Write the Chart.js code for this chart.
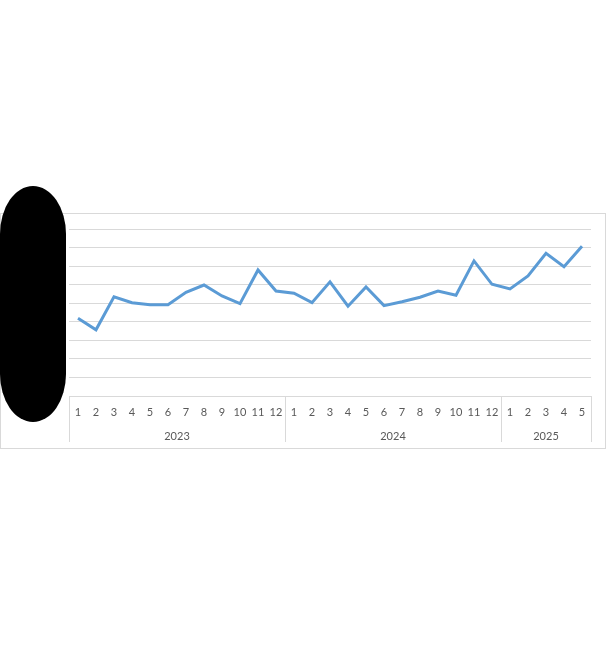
<!DOCTYPE html>
<html>
<head>
<meta charset="utf-8">
<script src="https://cdn.jsdelivr.net/npm/chart.js@4/dist/chart.umd.min.js"></script>
<style>
html,body{margin:0;padding:0;background:#fff;width:607px;height:662px;overflow:hidden;}
#wrap{position:relative;width:607px;height:662px;}
#blob{position:absolute;left:0;top:186px;width:66px;height:236px;background:#000;border-radius:33px / 48px;z-index:5;}
</style>
</head>
<body>
<div id="wrap">
<canvas id="c" width="607" height="662"></canvas>
<div id="blob"></div>
</div>
<script>
const years = ['2023', '2024', '2025'];
const monthsPerYear = [12, 12, 5];
const values = [4.19, 3.57, 5.35, 5.03, 4.92, 4.92, 5.59, 5.98, 5.39, 4.98, 6.79, 5.66,
                5.54, 5.03, 6.15, 4.84, 5.88, 4.87, 5.08, 5.32, 5.66, 5.43, 7.28, 6.02,
                5.77, 6.47, 7.69, 6.97, 8.07];
const yTicks = [0, 1, 2, 3, 4, 5, 6, 7, 8, 9];

const labels = [];
const monthLabels = [];
years.forEach((y, i) => {
  for (let m = 1; m <= monthsPerYear[i]; m++) { labels.push(y + '-' + m); monthLabels.push(String(m)); }
});

const gridColor = '#d9d9d9';
const textColor = '#595959';
const fontFamily = 'Lato, "Open Sans", sans-serif';

const decor = {
  id: 'decor',
  beforeDraw(chart) {
    const ctx = chart.ctx;
    ctx.save();
    ctx.fillStyle = '#fff';
    ctx.fillRect(0, 0, chart.width, chart.height);
    ctx.strokeStyle = gridColor;
    ctx.lineWidth = 1;
    ctx.strokeRect(0.5, 213.5, 605, 235);
    ctx.restore();
  },
  afterDraw(chart) {
    const ctx = chart.ctx;
    const xs = chart.scales.x;
    const area = chart.chartArea;
    const half = (xs.getPixelForValue(1) - xs.getPixelForValue(0)) / 2;
    ctx.save();
    ctx.strokeStyle = gridColor;
    ctx.lineWidth = 1;
    ctx.beginPath();
    ctx.moveTo(area.left, Math.round(area.bottom) + 0.5);
    ctx.lineTo(area.right, Math.round(area.bottom) + 0.5);
    ctx.stroke();
    let idx = 0;
    const bounds = [xs.getPixelForValue(0) - half];
    ctx.fillStyle = textColor;
    ctx.font = '11px ' + fontFamily;
    ctx.textAlign = 'center';
    ctx.textBaseline = 'middle';
    years.forEach((y, i) => {
      const start = xs.getPixelForValue(idx) - half;
      idx += monthsPerYear[i];
      const end = xs.getPixelForValue(idx - 1) + half;
      bounds.push(end);
      ctx.fillText(y, (start + end) / 2, area.bottom + 40);
    });
    bounds.forEach(b => {
      ctx.beginPath();
      ctx.moveTo(Math.round(b) + 0.5, area.bottom);
      ctx.lineTo(Math.round(b) + 0.5, area.bottom + 46);
      ctx.stroke();
    });
    ctx.restore();
  }
};

new Chart(document.getElementById('c'), {
  type: 'line',
  data: {
    labels: labels,
    datasets: [{
      data: values,
      borderColor: '#5b9bd5',
      borderWidth: 3,
      pointRadius: 0,
      tension: 0,
      fill: false
    }]
  },
  options: {
    responsive: false,
    animation: false,
    devicePixelRatio: 1,
    layout: { padding: { left: 69, right: 16, top: 229, bottom: 214 } },
    plugins: { legend: { display: false }, tooltip: { enabled: false } },
    scales: {
      x: {
        type: 'category',
        offset: true,
        border: { display: false },
        grid: { display: false },
        ticks: {
          autoSkip: false, maxRotation: 0, minRotation: 0, padding: 2,
          color: textColor, font: { family: fontFamily, size: 11 },
          callback: (v, i) => monthLabels[i]
        },
        afterFit(s) { s.height = 52; }
      },
      y: {
        min: yTicks[0], max: yTicks[yTicks.length - 1],
        border: { display: false },
        grid: { color: gridColor, lineWidth: 1, drawTicks: false },
        ticks: { display: false, stepSize: 1 },
        afterBuildTicks(s) { s.ticks = yTicks.map(v => ({ value: v })); },
        afterFit(s) { s.width = 0; }
      }
    }
  },
  plugins: [decor]
});
</script>
</body>
</html>
